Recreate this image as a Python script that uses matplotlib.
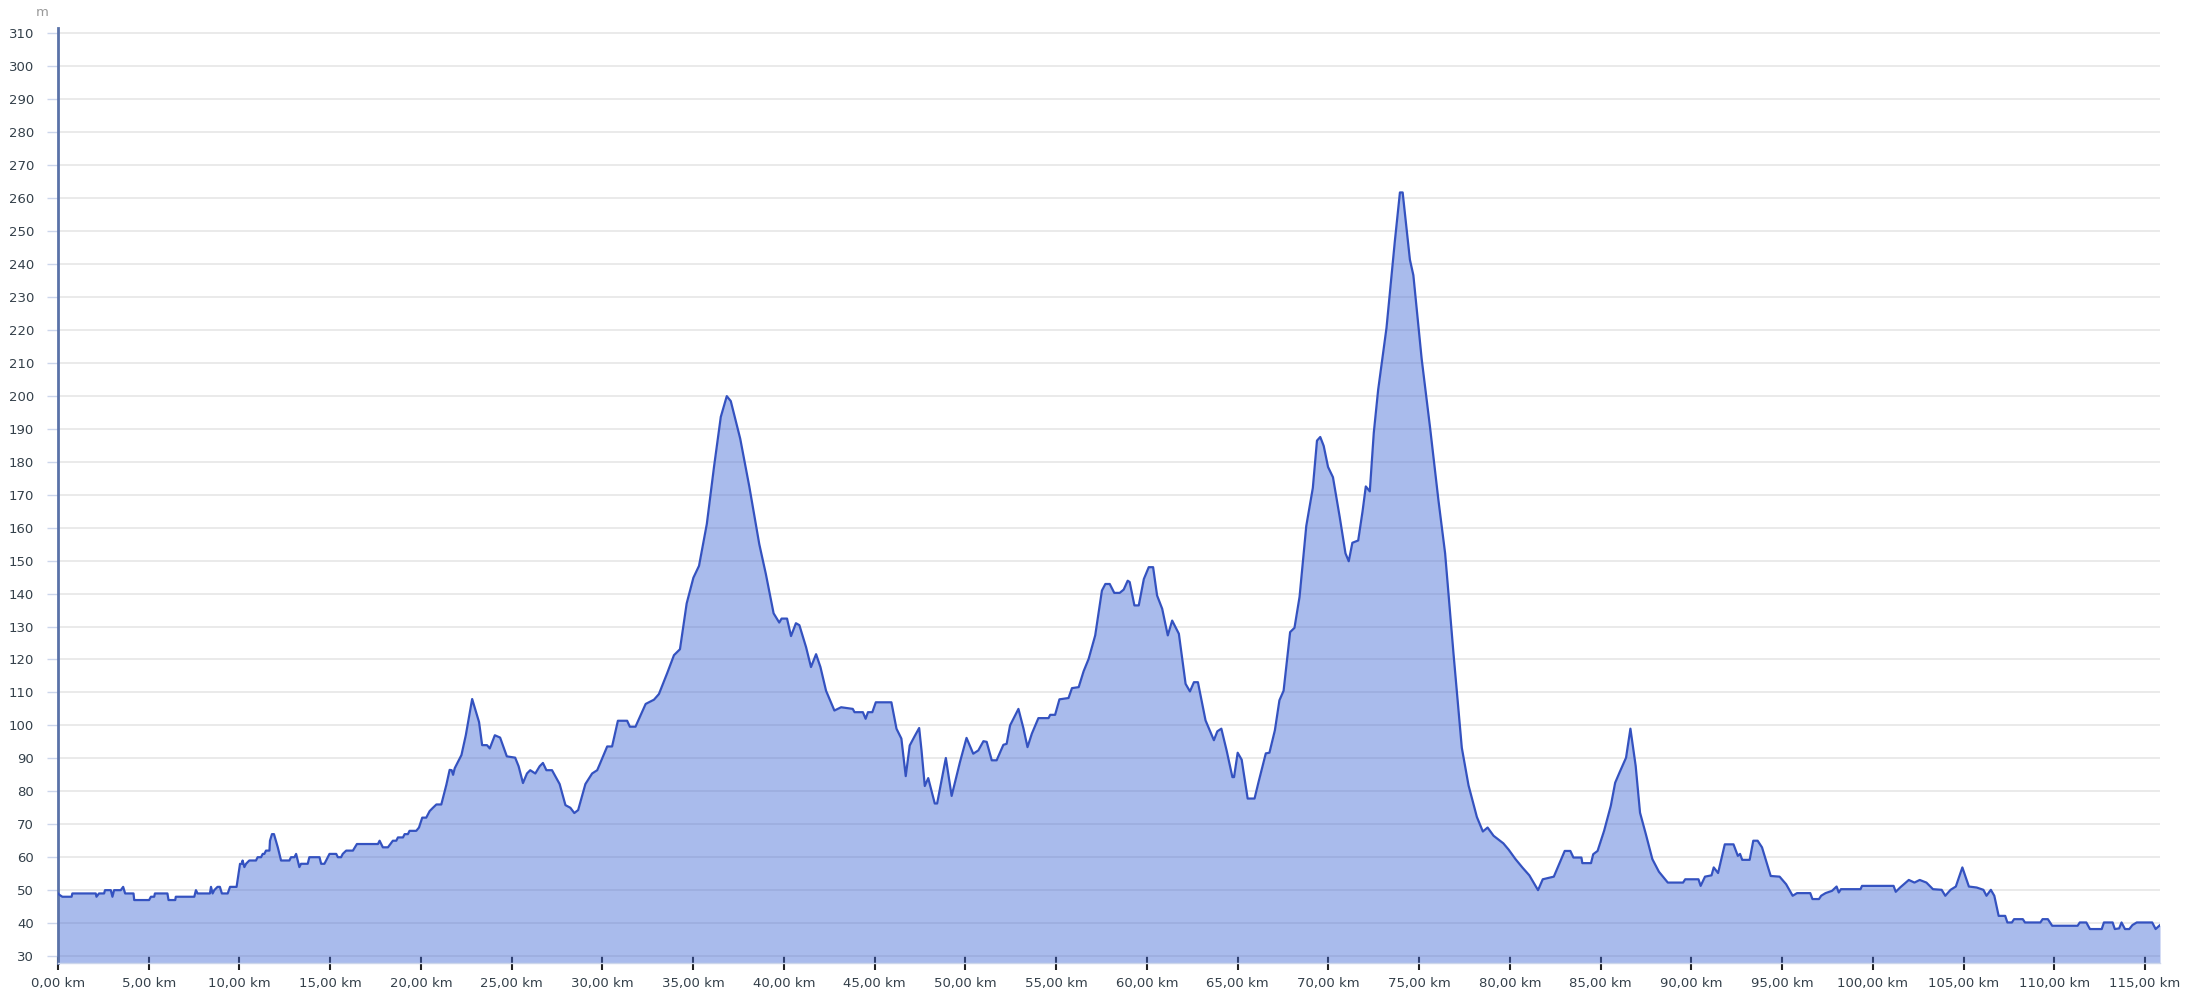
import numpy as np
import matplotlib
matplotlib.use("Agg")
import matplotlib.pyplot as plt

# elevation profile: distance (km) / altitude (m)
km = [0.00, 0.10, 0.24, 0.75, 0.79, 2.08, 2.12, 2.26, 2.54, 2.59, 2.91, 3.00, 3.09, 3.46, 3.59, 3.70,
      4.16, 4.20, 5.02, 5.12, 5.30, 5.34, 6.03, 6.09, 6.46, 6.49, 7.51, 7.60, 7.69, 8.37, 8.43, 8.52,
      8.61, 8.79, 8.92, 9.03, 9.35, 9.48, 9.84, 10.03, 10.14, 10.17, 10.27, 10.36, 10.54, 10.91, 11.00,
      11.19, 11.28, 11.37, 11.46, 11.65, 11.68, 11.79, 11.90, 12.11, 12.29, 12.75, 12.84, 13.03, 13.12,
      13.30, 13.39, 13.76, 13.85, 14.41, 14.50, 14.68, 14.96, 15.33, 15.42, 15.60, 15.69, 15.88, 16.25,
      16.47, 17.63, 17.72, 17.90, 18.18, 18.45, 18.64, 18.73, 19.01, 19.10, 19.28, 19.37, 19.74, 19.89,
      20.07, 20.29, 20.48, 20.66, 20.85, 21.12, 21.40, 21.58, 21.69, 21.77, 21.86, 22.23, 22.47, 22.82,
      23.20, 23.37, 23.64, 23.79, 24.07, 24.36, 24.73, 25.19, 25.38, 25.62, 25.84, 26.02, 26.30, 26.54,
      26.72, 26.91, 27.22, 27.64, 27.96, 28.23, 28.45, 28.66, 29.06, 29.43, 29.71, 29.85, 30.26, 30.53,
      30.85, 31.36, 31.51, 31.82, 32.38, 32.84, 33.11, 33.57, 33.94, 34.27, 34.64, 35.01, 35.32, 35.75,
      36.15, 36.52, 36.85, 37.07, 37.59, 38.09, 38.64, 39.00, 39.43, 39.74, 39.87, 40.17, 40.39, 40.66,
      40.85, 41.22, 41.49, 41.77, 42.01, 42.32, 42.78, 43.15, 43.79, 43.89, 44.35, 44.50, 44.63, 44.87,
      45.06, 45.92, 46.20, 46.47, 46.71, 46.93, 47.21, 47.45, 47.58, 47.76, 47.95, 48.31, 48.44, 48.92,
      49.24, 49.70, 50.06, 50.43, 50.71, 50.99, 51.17, 51.45, 51.72, 52.09, 52.27, 52.46, 52.92, 53.20,
      53.42, 53.66, 54.02, 54.58, 54.67, 54.94, 55.18, 55.68, 55.87, 56.24, 56.51, 56.79, 57.15, 57.52,
      57.71, 57.95, 58.20, 58.50, 58.72, 58.94, 59.05, 59.31, 59.55, 59.83, 60.10, 60.34, 60.56, 60.84,
      61.15, 61.39, 61.76, 62.13, 62.37, 62.59, 62.81, 63.23, 63.69, 63.88, 64.10, 64.39, 64.71, 64.80,
      65.00, 65.22, 65.55, 65.93, 66.15, 66.55, 66.75, 67.05, 67.30, 67.53, 67.89, 68.13, 68.41, 68.78,
      69.14, 69.37, 69.55, 69.74, 69.98, 70.25, 70.62, 70.94, 71.12, 71.32, 71.64, 71.88, 72.06, 72.28,
      72.50, 72.74, 73.20, 73.66, 73.94, 74.09, 74.49, 74.68, 75.14, 75.60, 76.06, 76.43, 76.89, 77.35,
      77.72, 78.18, 78.51, 78.77, 79.10, 79.47, 79.64, 79.93, 80.31, 80.70, 81.07, 81.55, 81.81, 82.42,
      83.02, 83.33, 83.50, 83.94, 83.99, 84.47, 84.59, 84.83, 85.19, 85.56, 85.80, 86.04, 86.40, 86.64,
      86.93, 87.17, 87.49, 87.85, 88.21, 88.70, 89.54, 89.66, 90.39, 90.51, 90.75, 91.11, 91.23, 91.47,
      91.84, 92.32, 92.56, 92.68, 92.80, 93.21, 93.41, 93.65, 93.89, 94.37, 94.86, 95.22, 95.58, 95.82,
      96.55, 96.67, 97.03, 97.15, 97.39, 97.75, 98.00, 98.12, 98.24, 99.32, 99.40, 101.14, 101.26,
      101.50, 101.98, 102.29, 102.58, 102.95, 103.31, 103.79, 103.99, 104.28, 104.57, 104.93, 105.29,
      105.72, 106.09, 106.26, 106.50, 106.69, 106.93, 107.29, 107.41, 107.66, 107.78, 108.26, 108.38,
      109.23, 109.35, 109.64, 109.88, 111.28, 111.40, 111.76, 111.96, 112.61, 112.73, 113.21, 113.33,
      113.57, 113.70, 113.89, 114.13, 114.30, 114.54, 115.39, 115.58, 115.82]
alt = [49, 48.5, 48, 48, 49, 49, 48, 49, 49, 50, 50, 48, 50, 50, 51, 49,
       49, 47, 47, 48, 48, 49, 49, 47, 47, 48, 48, 50, 49, 49, 51, 49,
       50, 51, 51, 49, 49, 51, 51, 58, 58, 59, 57, 58, 59, 59, 60,
       60, 61, 61, 62, 62, 65, 67, 67, 63, 59, 59, 60, 60, 61,
       57, 58, 58, 60, 60, 58, 58, 61, 61, 60, 60, 61, 62, 62,
       64, 64, 65, 63, 63, 65, 65, 66, 66, 67, 67, 68, 68, 69,
       72, 72, 74, 75, 76, 76, 82, 86.5, 86.4, 85, 87, 91, 97, 108,
       101, 94, 94, 93, 97, 96.3, 90.6, 90.2, 87.6, 82.5, 85.4, 86.4, 85.4, 87.6,
       88.6, 86.4, 86.4, 82.2, 75.8, 75, 73.4, 74.3, 82.2, 85.4, 86.4, 88.2, 93.6, 93.6,
       101.4, 101.4, 99.6, 99.6, 106.5, 107.8, 109.5, 115.9, 121.3, 123.1, 137, 144.8, 148.4, 161.1,
       178.6, 193.6, 199.9, 198.4, 187, 172.5, 155, 146, 134, 131.2, 132.4, 132.4, 127.1, 131,
       130.4, 123.7, 117.7, 121.6, 117.7, 110.5, 104.5, 105.5, 105, 104, 104, 102, 104, 104,
       107, 107, 99, 96, 84.6, 93.9, 96.8, 99.2, 92.4, 81.6, 84, 76.3, 76.3, 90.1,
       78.6, 88.9, 96.2, 91.4, 92.4, 95.2, 95, 89.4, 89.4, 94.1, 94.4, 100, 105, 99,
       93.4, 97.5, 102.2, 102.2, 103.2, 103.2, 107.9, 108.3, 111.3, 111.6, 116.4, 120.2, 127.3, 140.9,
       142.9, 142.9, 140.2, 140.2, 141.2, 143.9, 143.5, 136.4, 136.4, 144.4, 148, 148, 139.4, 135.4,
       127.3, 131.8, 127.8, 112.6, 110.3, 113.1, 113.1, 101.5, 95.5, 98.2, 99, 92.4, 84.3, 84.3,
       91.7, 89.6, 77.8, 77.8, 82.8, 91.5, 91.7, 98.5, 107.6, 110.5, 128.3, 129.6, 139, 160.5,
       172, 186.4, 187.5, 184.8, 178.4, 175.3, 163.3, 152.2, 149.8, 155.4, 156.1, 164.9, 172.5, 171,
       188.8, 201.8, 220.6, 246.9, 261.7, 261.7, 241.3, 236.6, 211.1, 190.4, 168.4, 152.2, 121.9, 93.2,
       81.8, 72.2, 67.8, 69.0, 66.5, 64.9, 64.2, 62.3, 59.4, 56.8, 54.5, 50, 53.3, 54.1,
       61.9, 61.9, 59.9, 59.9, 58.2, 58.2, 60.9, 61.9, 68, 75.6, 82.6, 85.7, 90.2, 99,
       87.7, 73.5, 67, 59.4, 55.6, 52.3, 52.3, 53.3, 53.3, 51.3, 54.1, 54.5, 56.9, 55.2,
       63.9, 63.9, 60.4, 61, 59.2, 59.2, 65, 65, 63, 54.3, 54.1, 51.8, 48.3, 49.1,
       49.1, 47.3, 47.3, 48.3, 49.1, 49.8, 51.1, 49.3, 50.3, 50.3, 51.3, 51.3, 49.5,
       50.8, 53.1, 52.3, 53.1, 52.3, 50.3, 50.1, 48.3, 50.1, 51.1, 56.9, 51.1,
       50.8, 50.1, 48.3, 50.1, 48.3, 42.2, 42.2, 40.2, 40.2, 41.2, 41.2, 40.2,
       40.2, 41.2, 41.2, 39.2, 39.2, 40.2, 40.2, 38.2, 38.2, 40.2, 40.2, 38.2,
       38.4, 40.2, 38.2, 38.2, 39.4, 40.2, 40.2, 38.2, 39.4]

x_ticks = list(range(0, 116, 5))
x_labels = ["%d,00 km" % t for t in x_ticks]
y_ticks = list(range(30, 311, 10))

fig = plt.figure(figsize=(21.86, 9.98), dpi=100)
ax = fig.add_axes([58 / 2186, 1 - 963 / 998, (2160 - 58) / 2186, (963 - 28) / 998])

ax.fill_between(km, alt, 0, color="#4268d5", alpha=0.45, lw=0, zorder=2)
ax.plot(km, alt, color="#3452c0", lw=1.6, zorder=3)

ax.set_xlim(0, 115.82)
ax.set_ylim(27.9, 311.6)

ax.set_yticks(y_ticks)
ax.set_yticklabels([str(v) for v in y_ticks])
ax.yaxis.grid(True, color="#e6e6e6", lw=1.2, zorder=0)
ax.set_axisbelow(True)
ax.tick_params(axis="y", direction="out", length=8.2, width=1, color="#ccd6eb",
               labelsize=9.5, labelcolor="#34404a", pad=9)

ax.set_xticks(x_ticks)
ax.set_xticklabels(x_labels)
ax.tick_params(axis="x", direction="inout", length=9.5, width=1.5, color="#222222",
               labelsize=9.5, labelcolor="#34404a", pad=5)

for s in ["top", "right"]:
    ax.spines[s].set_visible(False)
ax.spines["bottom"].set_color("#ccd6eb")
ax.spines["bottom"].set_linewidth(1)
ax.spines["left"].set_color("#5a72a8")
ax.spines["left"].set_linewidth(2)

fig.text(42 / 2186, 1 - 13 / 998, "m", color="#999999", fontsize=9.5, ha="center", va="center")

fig.savefig("out.png", dpi=100)
